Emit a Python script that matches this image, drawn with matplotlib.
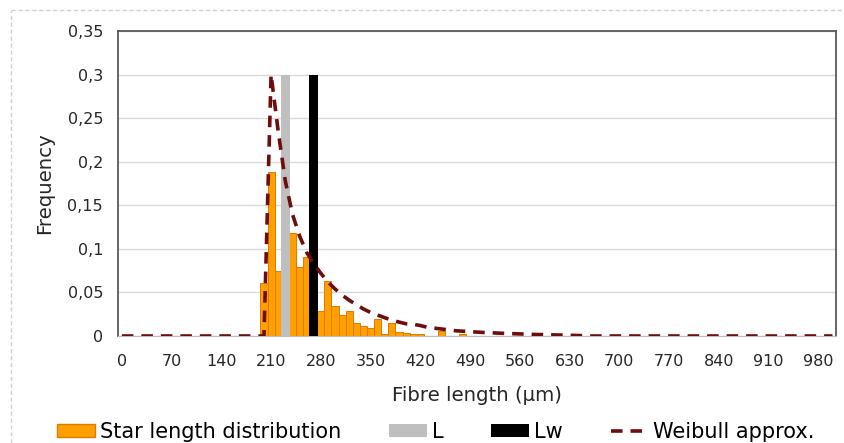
import numpy as np
import matplotlib
matplotlib.use("Agg")
import matplotlib.pyplot as plt
from matplotlib.patches import Patch
from matplotlib.lines import Line2D

plt.rcParams['font.family'] = ['DejaVu Sans']

# fibre length categories (um), 10 um bins
lengths = list(range(0, 1010, 10))

# star length distribution, bins 200..480 um (rest zero)
star_start = 200
star_vals = [0.061, 0.188, 0.075, 0.0, 0.118, 0.079, 0.091, 0.0, 0.029, 0.063,
             0.034, 0.024, 0.029, 0.0145, 0.0115, 0.0088, 0.019, 0.002, 0.015, 0.005,
             0.004, 0.002, 0.002, 0.0, 0.0, 0.006, 0.0, 0.0, 0.002]

# Weibull approximation, bins 200..650 um (rest zero)
weib_start = 200
weib_vals = [0.0, 0.30, 0.235, 0.178, 0.14, 0.115, 0.096, 0.083, 0.072, 0.062,
             0.054, 0.047, 0.041, 0.036, 0.031, 0.027, 0.024, 0.021, 0.018, 0.016,
             0.014, 0.0135, 0.012, 0.010, 0.009, 0.008, 0.007, 0.006, 0.0055, 0.005,
             0.0045, 0.004, 0.0037, 0.0033, 0.003, 0.0027, 0.0024, 0.0021, 0.0018, 0.0016,
             0.0014, 0.0012, 0.001, 0.0008, 0.0006, 0.0004]

# mean lengths
L_len, L_val = 230, 0.3
Lw_len, Lw_val = 270, 0.3

x_ticks = list(range(0, 981, 70))
y_ticks = [0, 0.05, 0.1, 0.15, 0.2, 0.25, 0.3, 0.35]
y_labels = ['0', '0,05', '0,1', '0,15', '0,2', '0,25', '0,3', '0,35']

star = np.zeros(len(lengths))
i0 = lengths.index(star_start)
star[i0:i0 + len(star_vals)] = star_vals
weib = np.zeros(len(lengths))
j0 = lengths.index(weib_start)
weib[j0:j0 + len(weib_vals)] = weib_vals

fig = plt.figure(figsize=(8.45, 4.43), dpi=100)
ax = fig.add_axes([118.3 / 845, 107 / 443, (836 - 118.3) / 845, (336 - 31) / 443])

ax.set_axisbelow(True)
ax.grid(axis='y', color='#d9d9d9', linewidth=1)
ax.bar(lengths, star, width=10, color='#ffa000', edgecolor='#e07a00', linewidth=0.7, zorder=2)
ax.bar([L_len], [L_val], width=12, color='#bfbfbf', zorder=3)
ax.bar([Lw_len], [Lw_val], width=12, color='black', zorder=3)
ax.plot(lengths, weib, color='#6e0d0d', linewidth=2.6, dashes=(3.2, 2.2), zorder=4)

ax.set_xlim(-5, 1005)
ax.set_ylim(0, 0.35)
ax.set_xticks(x_ticks)
ax.set_xticklabels([str(v) for v in x_ticks], fontsize=11.5)
ax.set_yticks(y_ticks)
ax.set_yticklabels(y_labels, fontsize=11.5)
ax.tick_params(axis='x', length=0, pad=13, colors='#262626')
ax.tick_params(axis='y', length=0, pad=11, colors='#262626')

for s in ['top', 'left', 'right']:
    ax.spines[s].set_color('#595959')
    ax.spines[s].set_linewidth(1.3)
ax.spines['bottom'].set_color('#bfbfbf')

ax.set_xlabel('Fibre length (µm)', fontsize=14.2, color='#262626', labelpad=12)
ax.set_ylabel('Frequency', fontsize=14.2, color='#262626', labelpad=9.5)

handles = [Patch(facecolor='#ffa000', edgecolor='#e07a00'),
           Patch(facecolor='#bfbfbf'),
           Patch(facecolor='black'),
           Line2D([0], [0], color='#6e0d0d', linewidth=2.6, dashes=(3.2, 2.2))]
fig.legend(handles, ['Star length distribution', 'L', 'Lw', 'Weibull approx.'],
           loc='center', bbox_to_anchor=(436 / 845, 1 - 432 / 443), ncol=4,
           frameon=False, fontsize=15, columnspacing=2.3, handlelength=1.8,
           handletextpad=0.25, handleheight=0.55)

# dashed outer chart border
fig.add_artist(Line2D([11 / 845, 1], [1 - 10 / 443, 1 - 10 / 443], color='#d0d0d0',
                      linewidth=1, linestyle=(0, (3, 2)), transform=fig.transFigure))
fig.add_artist(Line2D([11 / 845, 11 / 845], [0, 1 - 10 / 443], color='#d0d0d0',
                      linewidth=1, linestyle=(0, (3, 2)), transform=fig.transFigure))

fig.savefig('out.png', dpi=100)
